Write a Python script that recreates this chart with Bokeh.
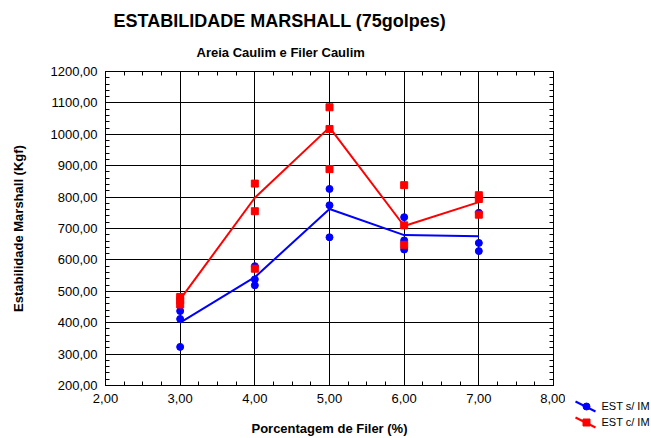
from bokeh.plotting import figure
from bokeh.layouts import row
from bokeh.models import FixedTicker, LinearAxis, Title, Range1d
from bokeh.core.properties import value
from bokeh.embed import file_html
from bokeh.resources import INLINE

# ---------------- data ----------------
x_ticks = [2, 3, 4, 5, 6, 7, 8]
x_tick_labels = ["2,00", "3,00", "4,00", "5,00", "6,00", "7,00", "8,00"]
y_ticks = [200, 300, 400, 500, 600, 700, 800, 900, 1000, 1100, 1200]
y_tick_labels = ["200,00", "300,00", "400,00", "500,00", "600,00", "700,00",
                 "800,00", "900,00", "1000,00", "1100,00", "1200,00"]

# EST s/ IM (blue) individual results
sem_x = [3, 3, 3, 4, 4, 4, 5, 5, 5, 6, 6, 6, 7, 7, 7]
sem_y = [437, 412, 323, 580, 538, 519, 826, 774, 672, 736, 662, 633, 750, 654, 628]
# EST s/ IM fitted line
sem_line_x = [3, 4, 5, 6, 7]
sem_line_y = [400, 545, 762, 679, 675]

# EST c/ IM (red) individual results
com_x = [3, 3, 3, 4, 4, 4, 5, 5, 5, 6, 6, 6, 7, 7, 7]
com_y = [482, 471, 458, 843, 755, 572, 1086, 1017, 889, 838, 710, 648, 806, 794, 744]
# EST c/ IM fitted line
com_line_x = [3, 4, 5, 6, 7]
com_line_y = [474, 798, 1022, 708, 784]

title_text = "ESTABILIDADE MARSHALL (75golpes)"
subtitle_text = "Areia Caulim e Filer Caulim"
x_label = "Porcentagem de Filer (%)"
y_label = "Estabilidade Marshall (Kgf)"
series_names = ["EST s/ IM", "EST c/ IM"]
series_colors = ["blue", "red"]
series_markers = ["circle", "square"]

FONT = "Liberation Sans"

# ---------------- main figure ----------------
p = figure(width=565, height=438, x_range=Range1d(2, 8), y_range=Range1d(200, 1200),
           output_backend="svg", toolbar_location=None, title=None,
           min_border_left=105, min_border_right=12, min_border_top=71, min_border_bottom=53,
           background_fill_color="white", border_fill_color="white")
p.frame_align = False
p.outline_line_color = "black"
p.outline_line_width = 1

x_minor = [2 + 0.25 * i for i in range(25)]
y_minor = [200 + 20 * i for i in range(51)]


def style_axis(ax, ticks, minor, labels, show_labels):
    ax.ticker = FixedTicker(ticks=ticks, minor_ticks=minor)
    ax.axis_line_color = "black"
    ax.axis_line_width = 1
    ax.major_tick_in = 4
    ax.major_tick_out = 0
    ax.minor_tick_in = 4
    ax.minor_tick_out = 0
    ax.major_tick_line_color = "black"
    ax.minor_tick_line_color = "black"
    if show_labels:
        ax.major_label_overrides = {t: l for t, l in zip(ticks, labels)}
        ax.major_label_text_font = FONT
        ax.major_label_text_font_size = "13px"
        ax.major_label_text_color = "black"
        ax.major_label_standoff = 8
    else:
        ax.major_label_overrides = {t: "" for t in ticks}
        ax.major_label_text_font_size = "0px"
        ax.major_label_standoff = 0


xa = p.xaxis[0]
ya = p.yaxis[0]
style_axis(xa, x_ticks, x_minor, x_tick_labels, True)
style_axis(ya, y_ticks, y_minor, y_tick_labels, True)
xa.axis_label = x_label
ya.axis_label = y_label
for ax in (xa, ya):
    ax.axis_label_text_font = FONT
    ax.axis_label_text_font_style = "bold"
    ax.axis_label_text_font_size = "13px"
    ax.axis_label_text_color = "black"
xa.axis_label_standoff = 15
ya.axis_label_standoff = 22

top_ax = LinearAxis()
style_axis(top_ax, x_ticks, x_minor, x_tick_labels, False)
right_ax = LinearAxis()
style_axis(right_ax, y_ticks, y_minor, y_tick_labels, False)
p.add_layout(top_ax, "above")
p.add_layout(right_ax, "right")

# titles (inner first: subtitle, then main title)
p.add_layout(Title(text=subtitle_text, align="left", offset=91, standoff=24,
                   text_font=FONT, text_font_style="bold", text_font_size="13px",
                   text_color="black"), "above")
p.add_layout(Title(text=title_text, align="left", offset=8, standoff=0,
                   text_font=FONT, text_font_style="bold", text_font_size="18px",
                   text_color="black"), "above")

p.xgrid.ticker = FixedTicker(ticks=x_ticks)
p.ygrid.ticker = FixedTicker(ticks=y_ticks)
for g in (p.xgrid, p.ygrid):
    g.grid_line_color = "black"
    g.grid_line_width = 1
    g.grid_line_alpha = 1

# ---------------- glyphs ----------------
p.line(sem_line_x, sem_line_y, line_color=series_colors[0], line_width=2)
p.scatter(sem_x, sem_y, marker=series_markers[0], size=7,
          fill_color=series_colors[0], line_color=series_colors[0])
p.line(com_line_x, com_line_y, line_color=series_colors[1], line_width=2)
p.scatter(com_x, com_y, marker=series_markers[1], size=7,
          fill_color=series_colors[1], line_color=series_colors[1])

# ---------------- legend panel (screen-like coordinates) ----------------
leg = figure(width=86, height=438, x_range=Range1d(565, 651), y_range=Range1d(438, 0),
             output_backend="svg", toolbar_location=None, title=None,
             x_axis_location=None, y_axis_location=None,
             min_border_left=0, min_border_right=0, min_border_top=0, min_border_bottom=0,
             background_fill_color="white", border_fill_color="white")
leg.frame_align = False
leg.outline_line_color = None
leg.xgrid.visible = False
leg.ygrid.visible = False

row_y = [406, 422]
for i in range(2):
    cy = row_y[i]
    leg.segment(x0=[575], y0=[cy - 5], x1=[595], y1=[cy + 5],
                line_color=series_colors[i], line_width=2)
    leg.scatter(x=[586], y=[cy], marker=series_markers[i], size=7,
                fill_color=series_colors[i], line_color=series_colors[i])
leg.text(x=[601, 601], y=[405, 421.5], text=series_names,
         text_font=value(FONT), text_font_size="11px", text_color="black",
         text_baseline="middle", text_align="left")

layout = row(p, leg)
open("out.html", "w").write(file_html(layout, INLINE))
